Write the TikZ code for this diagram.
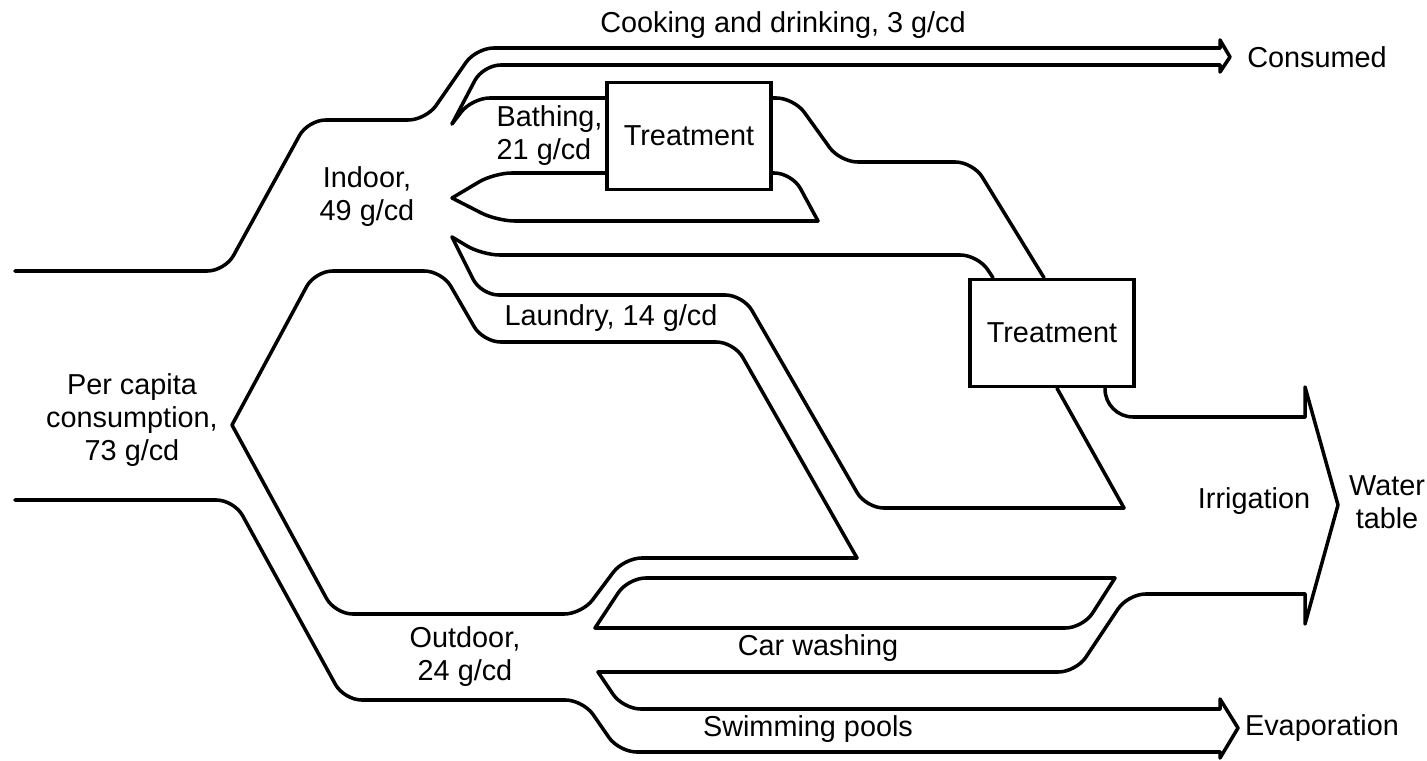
\documentclass[tikz,border=0pt]{standalone}
\usepackage{fontspec}
\setmainfont{Liberation Sans}

\begin{document}
\begin{tikzpicture}[x=0.01cm,y=-0.01cm,
		flow/.style={line width=1pt,rounded corners=5pt,line cap=round,line join=round},
		box/.style={draw,line width=1pt,minimum width=1.64cm,minimum height=1.07cm,inner sep=0pt,font=\fontsize{8.2}{9.4}\selectfont},
		lbl/.style={font=\fontsize{8.2}{9.4}\selectfont,align=center,inner sep=0pt}]
	\useasboundingbox (0,0) rectangle (1427,761);

	% treatment boxes
	\draw (689,136) 	node (tr1) [box] {Treatment};
	\draw (1052,333) 	node (tr2) [box] {Treatment};

	% labels
	\draw (783,25) 	node (cook) [lbl] {Cooking and drinking, 3 g/cd};
	\draw (1317,57) 	node (consumed) [lbl] {Consumed};
	\draw (496,136) 	node (bath) [lbl,anchor=west,align=left] {Bathing,\\21 g/cd};
	\draw (367,197) 	node (indoor) [lbl] {Indoor,\\49 g/cd};
	\draw (611,318) 	node (laundry) [lbl] {Laundry, 14 g/cd};
	\draw (132,420) 	node (percap) [lbl] {Per capita\\consumption,\\73 g/cd};
	\draw (465,657) 	node (outdoor) [lbl] {Outdoor,\\24 g/cd};
	\draw (818,648) 	node (car) [lbl] {Car washing};
	\draw (808,729) 	node (swim) [lbl] {Swimming pools};
	\draw (1322,728) 	node (evap) [lbl] {Evaporation};
	\draw (1254,501) 	node (irrig) [lbl] {Irrigation};
	\draw (1387,502) 	node (wtable) [lbl] {Water\\table};

	% indoor branch
	\draw[flow] (15,271) -- (225,271) -- (308,120) -- (426,120) -- (476,48) -- (1220,48);
	\draw[flow,sharp corners] (1220,48) -- (1220,40) -- (1230,57) -- (1220,72) -- (1220,65);
	\draw[flow] (452,124) -- (483,65) -- (1220,65);
	\draw[flow] (452,124) -- (472,98) -- (tr1.west |- 0,98);
	\draw[flow] (tr1.east |- 0,98) -- (794,98) -- (840,162) -- (973,162) -- (tr2.north -| 1044,0);
	\draw[flow] (tr1.east |- 0,173) -- (792,173) -- (818,221);
	\draw[flow] (818,221) -- (497,221) -- (452,198);
	\draw[flow] (452,198) -- (494,173) -- (tr1.west |- 0,173);
	\draw[flow] (452,237) -- (482,255) -- (978,255) -- (tr2.north -| 993,0);

	% laundry
	\draw[flow] (452,237) -- (481,295) -- (743,295) -- (866,508) -- (1124,508);
	\draw[flow] (1124,508) -- (tr2.south -| 1057,0);
	\draw[flow] (232,425) -- (315,271) -- (442,271) -- (483,342) -- (734,342) -- (857,558);

	% outdoor branch
	\draw[flow] (857,558) -- (624,558) -- (582,614) -- (335,614) -- (232,425);
	\draw[flow] (15,500) -- (234,500) -- (344,700) -- (583,700) -- (619,752) -- (1220,752);
	\draw[flow,sharp corners] (1220,752) -- (1220,758) -- (1238,728) -- (1220,699) -- (1220,709);
	\draw[flow] (598,672) -- (623,709) -- (1220,709);
	\draw[flow] (598,672) -- (1076,672) -- (1128,594) -- (1305,594);
	\draw[flow] (595,628) -- (628,578) -- (1115,578);
	\draw[flow] (1115,578) -- (1083,628) -- (595,628);

	% irrigation
	\draw[flow,rounded corners=8pt] (tr2.south -| 1105,0) -- (1105,417) -- (1305,417);
	\draw[flow,sharp corners] (1305,417) -- (1305,387) -- (1338,505) -- (1305,624) -- (1305,594);
\end{tikzpicture}
\end{document}
